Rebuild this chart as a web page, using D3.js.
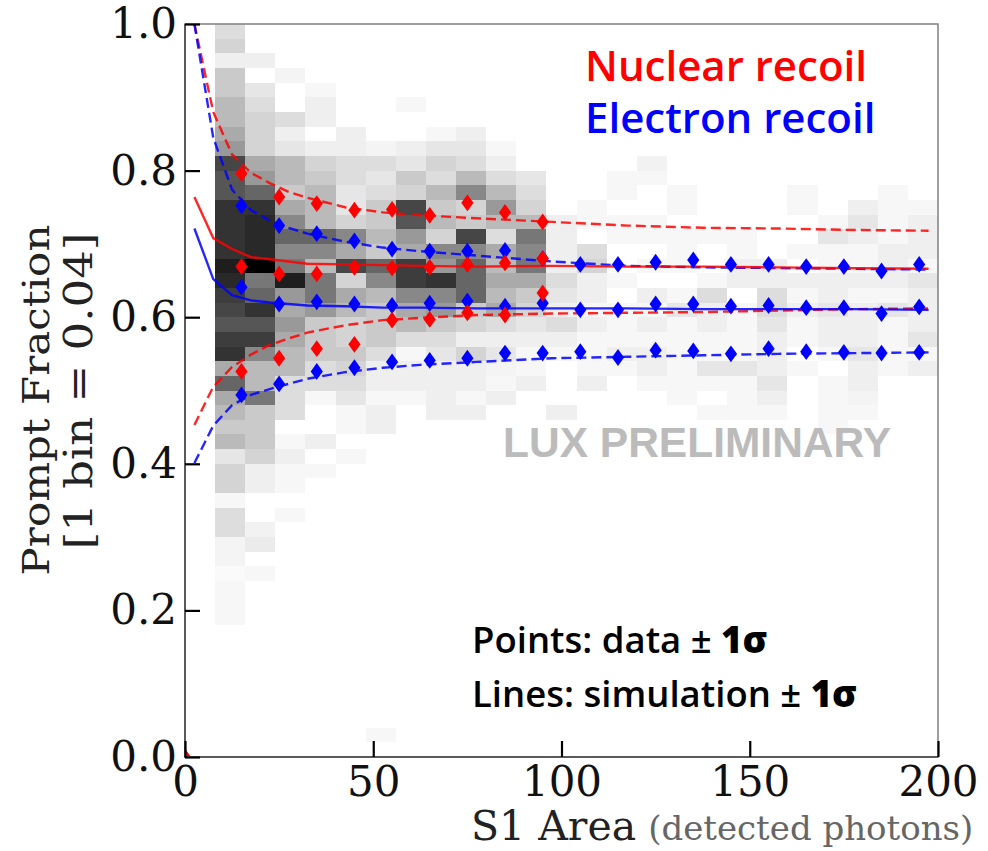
<!DOCTYPE html>
<html>
<head>
<meta charset="utf-8">
<script src="https://cdn.jsdelivr.net/npm/d3@7/dist/d3.min.js"></script>
<style>
  body { margin: 0; background: #fff; }
  svg { display: block; }
</style>
</head>
<body>
<svg id="chart" width="988" height="851"></svg>
<script>
// ---- 2D histogram of prompt fraction vs S1 (grey level 0 = empty … 10 = fullest) ----
// Each column is one 8 phd wide S1 bin; values run from the top row (0.98–1.00) downward in 0.02 steps.
const histS1Start = [8, 16, 24, 32, 40, 48, 56, 64, 72, 80, 88, 96, 104, 112, 120, 128, 136, 144, 152, 160, 168, 176, 184, 192];
const histColumns = [
  [2,2.5,1,3,3,3.5,3.5,4,4.5,7,6.5,6.5,8,8,8,8,9,8.5,7.5,7,6.5,7.5,8,4,6,4,3.5,3,3.5,1.5,2.5,2.5,0.5,2,2,0.7,0.7,0.3,0.5,0.5,0.5],
  [0,0,1,0,1.5,2,2.5,2.5,2.5,4,4.5,6,8,8.5,8.5,8.5,10,5.5,6,8,6.5,7.5,5,3.5,3.5,5.5,3,3,3,2.5,1,1,0,0,0.8,1.2,0,0.5],
  [0,0,0,0.7,0,0,2,1,1.5,3.5,3.5,3,4,5,6,5,5.5,9,4.5,4,4.5,4,3.5,3.5,2,2,2,0,0.5,1,0.5,0.5,0,0.5],
  [0,0,0,0,0.5,1,1,0,1,2.5,3,3.5,3.5,3.5,6,5,3.5,5.5,5.5,4.5,3,3,3,2,2,0.5,0,0,1,0,0.5],
  [0,0,0,0,0,0,0,1,1,2,2,1.5,1.5,2.5,5,4,7,2.5,4,3.5,2.5,2.5,3,2.5,2,1.5,0.5,0.5,0,0.5],
  [0,0,0,0,0,0,0,0,0.7,2,1.5,2,3,3,3.5,3,6,5,3.5,3,3,3,2,1,1,0.5,1,1,0,0,0,0,0,0,0,0,0,0,0,0,0,0,0,0,0,0,0,0,0.5],
  [0,0,0,0,0,0.5,0,0,1,1.5,3,2.5,7,6.5,4.5,4,7.5,7.5,5,4,3.5,2,0.5,1,1,0.5],
  [0,0,0,0,0,0,0,0.5,1.5,2.5,2,3.5,3,3.5,2.5,5,4.5,8,5,4.5,3,2,1.5,1,1,1,1],
  [0,0,0,0,0,0,0,1,1.5,2,3.5,5,2.5,3,7,5,6,6,6,3,2.5,1,2.5,1,1,0.5,1],
  [0,0,0,0,0,0,0,0,0.5,1,2,3.5,4.5,3.5,2,4,3.5,4,3.5,4,2,1,1.5,0.7,0.5,1],
  [0,0,0,0,0,0,0,0,0,0,1.5,2,2.5,3.5,5.5,5,5.5,4,3,2.5,1.5,1,0.5,0.5,1],
  [0,0,0,0,0,0,0,0,0,0,0,0,0,1,1,1,1,2,1.5,1,2,1,0.5,0,0,0,1],
  [0,0,0,0,0,0,0,0,0,0,0,0,0.5,0.5,0,2,2.5,1,1,0.5,1,0.5,0.5,0.5,1],
  [0,0,0,0,0,0,0,0,0,0,0.5,0.5,0,0.5,0.5,0,0,0.5,0,0.5,0.5,0.5,1,0.5],
  [0,0,0,0,0,0,0,0,0,0.8,0.5,0,0,0.5,0.5,0,0.5,0,1,0.5,1,0.5,1,1,0.5],
  [0,0,0,0,0,0,0,0,0,0,0,0.5,0.5,0,0.5,0.5,0.5,0,0.5,1.5,0.5,0.5,0.5,0.5,0.5,0.5],
  [0,0,0,0,0,0,0,0,0,0,0,0,0,0,0.5,0,0,0.5,2,1,1,0.5,0.5,1.5,0.5,0,0.5],
  [0,0,0,0,0,0,0,0,0,0,0,0,0,0,0.5,0.5,1,1,0,0.5,0.5,0.5,0.5,1.5,0.5,0.5,0.5],
  [0,0,0,0,0,0,0,0,0,0,0,0,0,0,0,0,1,1,2,2,1.5,1,1,1,1.5,1,0.5],
  [0,0,0,0,0,0,0,0,0,0,0,0.5,0.5,0,0,0.5,0,1,0.5,1,0.5,0.5,0,0.5],
  [0,0,0,0,0,0,0,0,0,0,0,0,0,0.5,1.5,0.5,0.5,1,1,1.5,1,1,0.5,0,0.5,0.5,0.5,0.5],
  [0,0,0,0,0,0,0,0,0,0,0,0,1,1.5,1,0.5,0.5,1,0.5,1,1,1,1.5,1,1,0.7,0.5],
  [0,0,0,0,0,0,0,0,0,0,0,0.5,0.5,0.5,0.5,1,1,1,0.5,1.5,0.5,0.5,0.5,0.5],
  [0,0,0,0,0,0,0,0,0,0,0,0,0.5,1,1,1,0.5,1.5,1,1,1,1.5,0.5,1]
];
const histS1Width = 8;
const histRowHeight = 0.02;

// ---- measured points: mean and ±1σ per 10 phd S1 bin ----
const nrS1 = [15, 25, 35, 45, 55, 65, 75, 85, 95];
const nrUpper = [0.796, 0.764, 0.755, 0.746, 0.747, 0.739, 0.756, 0.743, 0.730];
const nrMean  = [0.669, 0.659, 0.659, 0.668, 0.667, 0.668, 0.672, 0.674, 0.680];
const nrLower = [0.526, 0.544, 0.557, 0.563, 0.596, 0.597, 0.606, 0.603, 0.633];
const nrStray = [[0, 0]];

const erS1 = [15, 25, 35, 45, 55, 65, 75, 85, 95, 105, 115, 125, 135, 145, 155, 165, 175, 185, 195];
const erUpper = [0.752, 0.725, 0.714, 0.704, 0.693, 0.690, 0.690, 0.691, 0.680, 0.672, 0.672, 0.675, 0.678, 0.672, 0.672, 0.669, 0.669, 0.663, 0.672];
const erMean  = [0.641, 0.618, 0.621, 0.618, 0.616, 0.619, 0.622, 0.615, 0.619, 0.610, 0.610, 0.618, 0.618, 0.615, 0.616, 0.613, 0.613, 0.605, 0.614];
const erLower = [0.494, 0.509, 0.526, 0.531, 0.539, 0.541, 0.544, 0.551, 0.551, 0.553, 0.545, 0.555, 0.554, 0.550, 0.557, 0.553, 0.552, 0.551, 0.552];

// ---- simulation bands: mean and ±1σ ----
const simS1 = [2.5, 7.5, 12.5, 17.5, 22.5, 27.5, 32.5, 42.5, 52.5, 62.5, 77.5, 97.5, 117.5, 137.5, 157.5, 177.5, 197.5];
const nrSimUpper = [1.000, 0.880, 0.822, 0.797, 0.783, 0.771, 0.763, 0.750, 0.743, 0.739, 0.735, 0.730, 0.725, 0.722, 0.721, 0.719, 0.718];
const nrSimMean  = [0.764, 0.708, 0.693, 0.682, 0.679, 0.676, 0.673, 0.672, 0.671, 0.670, 0.669, 0.670, 0.669, 0.669, 0.668, 0.667, 0.666];
const nrSimLower = [0.453, 0.505, 0.532, 0.549, 0.562, 0.571, 0.579, 0.589, 0.596, 0.599, 0.603, 0.605, 0.606, 0.607, 0.609, 0.611, 0.612];
const erSimUpper = [1.000, 0.845, 0.774, 0.746, 0.732, 0.722, 0.714, 0.703, 0.695, 0.690, 0.684, 0.676, 0.670, 0.668, 0.667, 0.666, 0.665];
const erSimMean  = [0.721, 0.652, 0.630, 0.623, 0.620, 0.618, 0.616, 0.615, 0.613, 0.613, 0.612, 0.612, 0.612, 0.611, 0.611, 0.611, 0.610];
const erSimLower = [0.401, 0.452, 0.480, 0.494, 0.502, 0.509, 0.516, 0.525, 0.531, 0.535, 0.539, 0.544, 0.546, 0.548, 0.550, 0.551, 0.552];

// ---- axes ----
const xTicks = [0, 50, 100, 150, 200];
const yTicks = [0.0, 0.2, 0.4, 0.6, 0.8, 1.0];

// ---------------------------------------------------------------------------
const NR = "#ff0000", ER = "#0000ff";
const serif = "'DejaVu Serif', serif";
const sans = "'Open Sans', 'Noto Sans', sans-serif";

const svg = d3.select("#chart");
const x = d3.scaleLinear().domain([0, 200]).range([185, 938]);
const y = d3.scaleLinear().domain([0, 1]).range([757, 24]);

svg.append("defs").append("clipPath").attr("id", "plotClip")
  .append("rect")
  .attr("x", x(0)).attr("y", y(1))
  .attr("width", x(200) - x(0)).attr("height", y(0) - y(1));

// grey ramp for histogram occupancy
const grey = d3.scaleLinear()
  .domain([0, 1, 2, 3, 4, 5, 6, 7, 8, 9, 10])
  .range(["#ffffff", "#efefef", "#dddddd", "#cacaca", "#aaaaaa", "#888888", "#666666", "#464646", "#333333", "#1e1e1e", "#000000"]);

const cells = [];
histColumns.forEach((col, i) => {
  col.forEach((v, j) => {
    if (v > 0) {
      const top = 1 - j * histRowHeight;
      cells.push({ s1: histS1Start[i], top, bottom: top - histRowHeight, v });
    }
  });
});

const plot = svg.append("g").attr("clip-path", "url(#plotClip)");

plot.append("g").attr("shape-rendering", "crispEdges")
  .selectAll("rect").data(cells).join("rect")
  .attr("x", d => x(d.s1))
  .attr("y", d => y(d.top))
  .attr("width", d => x(d.s1 + histS1Width) - x(d.s1))
  .attr("height", d => y(d.bottom) - y(d.top))
  .attr("fill", d => grey(d.v));

// simulation curves
const line = d3.line().x(d => x(d[0])).y(d => y(d[1]));
const curves = [
  { vals: nrSimUpper, color: NR, dash: "10,5" },
  { vals: nrSimLower, color: NR, dash: "10,5" },
  { vals: erSimUpper, color: ER, dash: "10,5" },
  { vals: erSimLower, color: ER, dash: "10,5" },
  { vals: nrSimMean, color: NR, dash: null },
  { vals: erSimMean, color: ER, dash: null }
];
plot.append("g").selectAll("path").data(curves).join("path")
  .attr("d", c => line(simS1.map((s, i) => [s, c.vals[i]])))
  .attr("fill", "none")
  .attr("stroke", c => c.color)
  .attr("stroke-width", 2.4)
  .attr("stroke-dasharray", c => c.dash)
  .attr("stroke-opacity", 0.85);

// thin diamond marker
const thinDiamond = {
  draw(ctx, size) {
    const w = Math.sqrt(size) * 0.42, h = Math.sqrt(size) * 0.58;
    ctx.moveTo(0, -h); ctx.lineTo(w, 0); ctx.lineTo(0, h); ctx.lineTo(-w, 0); ctx.closePath();
  }
};
const marker = d3.symbol().type(thinDiamond).size(210)();

const pointSets = [
  { xs: erS1, ys: erUpper, color: ER },
  { xs: erS1, ys: erMean, color: ER },
  { xs: erS1, ys: erLower, color: ER },
  { xs: nrS1, ys: nrUpper, color: NR },
  { xs: nrS1, ys: nrMean, color: NR },
  { xs: nrS1, ys: nrLower, color: NR }
];
const pts = [];
pointSets.forEach(s => s.xs.forEach((v, i) => pts.push({ s1: v, pf: s.ys[i], color: s.color })));
nrStray.forEach(p => pts.push({ s1: p[0], pf: p[1], color: NR }));

plot.append("g").selectAll("path").data(pts).join("path")
  .attr("d", marker)
  .attr("transform", d => `translate(${x(d.s1)},${y(d.pf)})`)
  .attr("fill", d => d.color);

// frame
svg.append("rect")
  .attr("x", x(0)).attr("y", y(1))
  .attr("width", x(200) - x(0)).attr("height", y(0) - y(1))
  .attr("fill", "none").attr("stroke", "#808080").attr("stroke-width", 1.5);
svg.append("path")
  .attr("d", `M${x(0)},${y(1)}V${y(0)}H${x(200)}`)
  .attr("fill", "none").attr("stroke", "#5a5a5a").attr("stroke-width", 2);

// axes with inward ticks
const yAxis = d3.axisLeft(y).tickValues(yTicks).tickFormat(d3.format(".1f")).tickSize(-15).tickPadding(8);
const gy = svg.append("g").attr("transform", `translate(${x(0)},0)`).call(yAxis);
const xAxis = d3.axisBottom(x).tickValues(xTicks).tickFormat(d3.format("d")).tickSize(-16).tickPadding(9);
const gx = svg.append("g").attr("transform", `translate(0,${y(0)})`).call(xAxis);

[gx, gy].forEach(g => {
  g.select(".domain").remove();
  g.selectAll(".tick line").attr("stroke", "#000").attr("stroke-width", 2.2);
  g.selectAll(".tick text").attr("fill", "#111").attr("font-family", serif).attr("font-size", 42);
});

// axis titles
svg.append("text")
  .attr("transform", `translate(49,400) rotate(-90) scale(1,0.9)`)
  .attr("text-anchor", "middle")
  .attr("font-family", serif).attr("font-size", 42).attr("fill", "#222")
  .text("Prompt Fraction");
svg.append("text")
  .attr("transform", `translate(92,391) rotate(-90) scale(1,0.85)`)
  .attr("text-anchor", "middle")
  .attr("font-family", serif).attr("font-size", 45).attr("fill", "#222")
  .text("[1 bin = 0.04]");

const xt = svg.append("text").attr("x", 471).attr("y", 840)
  .attr("font-family", serif).attr("fill", "#222");
xt.append("tspan").attr("font-size", 41).text("S1 Area");
xt.append("tspan").attr("dx", 12).attr("font-size", 34).attr("fill", "#666").text("(detected photons)");

// legend-style labels
svg.append("text").attr("x", 585).attr("y", 81)
  .attr("font-family", sans).attr("font-weight", 600).attr("font-size", 42).attr("fill", NR)
  .text("Nuclear recoil");
svg.append("text").attr("x", 585).attr("y", 133)
  .attr("font-family", sans).attr("font-weight", 600).attr("font-size", 42).attr("fill", ER)
  .text("Electron recoil");

svg.append("text").attr("x", 503).attr("y", 457)
  .attr("font-family", "'Liberation Sans', Arial, sans-serif").attr("font-weight", 700)
  .attr("font-size", 42.5).attr("fill", "#bbbbbb")
  .text("LUX PRELIMINARY");

const note1 = svg.append("text").attr("x", 472).attr("y", 653)
  .attr("font-family", sans).attr("font-weight", 600).attr("font-size", 36.5).attr("fill", "#000");
note1.append("tspan").text("Points: data ± ");
note1.append("tspan").attr("font-weight", 800).text("1σ");
const note2 = svg.append("text").attr("x", 472).attr("y", 707)
  .attr("font-family", sans).attr("font-weight", 600).attr("font-size", 36.5).attr("fill", "#000");
note2.append("tspan").text("Lines: simulation ± ");
note2.append("tspan").attr("font-weight", 800).text("1σ");
</script>
</body>
</html>
